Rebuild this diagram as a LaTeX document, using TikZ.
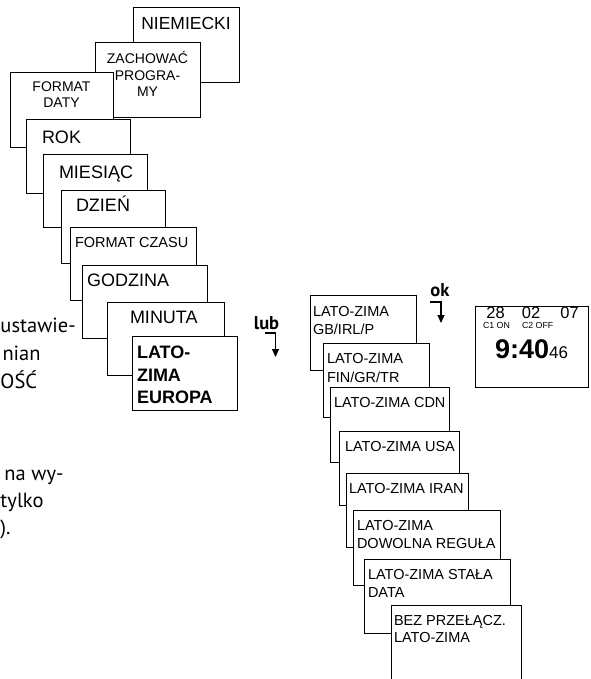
\documentclass[tikz,border=0pt]{standalone}
\usepackage{fontspec}
\setmainfont{Liberation Sans}
\newfontfamily\frut{PT Sans}
\usetikzlibrary{arrows.meta}
\newcommand\pbox[5]{\node[bx, minimum width={#4-#2}, minimum height={#5-#3}] (#1) at ({(#2+#4)/2},{(#3+#5)/2}) {};}
\begin{document}
\begin{tikzpicture}[x=1pt,y=-1pt,
  bx/.style={draw, line width=0.9pt, fill=white, inner sep=0pt, outer sep=0pt},
  tx/.style={inner sep=0pt, outer sep=0pt, anchor=base west},
  big/.style={tx, font=\fontsize{18}{20}\selectfont},
  bigb/.style={tx, font=\bfseries\fontsize{18}{20}\selectfont},
  sm/.style={tx, font=\fontsize{14}{16}\selectfont},
  rt/.style={tx, font=\fontsize{14.5}{17}\selectfont},
  frag/.style={inner sep=0pt, outer sep=0pt, anchor=base west, font=\frut\fontsize{20.5}{24}\selectfont},
  key/.style={inner sep=0pt, outer sep=0pt, anchor=base, font=\frut\bfseries\fontsize{18.5}{20}\selectfont},
  arr/.style={line width=1.1pt, -{Triangle[width=7pt,length=8pt]}},
]
\useasboundingbox (0,0) rectangle (590,679);
\clip (0,0) rectangle (590,679);

% left stack
\pbox{nie}{133}{7}{239}{82}
\node[big, font=\fontsize{17.5}{20}\selectfont, anchor=base] (nieT) at (186,30) {NIEMIECKI};
\pbox{zach}{95}{42}{200}{117}
\node[sm, anchor=base] (zachA) at (147.5,64) {ZACHOWAĆ};
\node[sm, anchor=base] (zachB) at (147.5,81) {PROGRA-};
\node[sm, anchor=base] (zachC) at (147.5,97) {MY};
\pbox{fdat}{10}{72}{113}{147}
\node[sm, anchor=base] (fdatA) at (61.5,92) {FORMAT};
\node[sm, anchor=base] (fdatB) at (61.5,108) {DATY};
\pbox{rok}{26}{119}{130}{193}
\node[big] (rokT) at (42,143.5) {ROK};
\pbox{mies}{43}{154}{147}{227}
\node[big] (miesT) at (59,178.5) {MIESIĄC};
\pbox{dzien}{61}{190}{165}{263}
\node[big] (dzienT) at (76,211.5) {DZIEŃ};
\pbox{fcz}{70}{227}{196}{300}
\node[rt] (fczT) at (75,247) {FORMAT CZASU};
\pbox{godz}{82}{265}{207}{338}
\node[big] (godzT) at (87,286.5) {GODZINA};
\pbox{minu}{107}{302}{224}{375}
\node[big] (minuT) at (130,323.5) {MINUTA};
\pbox{eur}{132}{336}{237}{410}
\node[bigb] (eurA) at (137,358.5) {LATO-};
\node[bigb] (eurB) at (137,381) {ZIMA};
\node[bigb] (eurC) at (137,403.5) {EUROPA};

% text fragments on the left
\node[frag] (f1) at (0.5,332) {ustawie-};
\node[frag] (f2) at (2.5,360) {nian};
\node[frag] (f3) at (0.5,388) {OŚĆ};
\node[frag] (f4) at (4.5,480) {na wy-};
\node[frag] (f5) at (0.5,507) {tylko};
\node[frag] (f6) at (0.5,534) {).};

% lub / ok arrows
\node[key] (lub) at (266.5,329) {lub};
\coordinate (lubA) at (265,333);
\coordinate (lubB) at (275.5,357);
\draw[arr] (lubA) -| (lubB);
\node[key] (ok) at (440,296) {ok};
\coordinate (okA) at (430,302);
\coordinate (okB) at (441,323);
\draw[arr] (okA) -| (okB);

% right stack
\pbox{r1}{310}{295}{416}{370}
\node[rt] (r1a) at (313,316.2) {LATO-ZIMA};
\node[rt] (r1b) at (313,334.2) {GB/IRL/P};
\pbox{r2}{323}{343}{429}{417}
\node[rt] (r2a) at (327,363.2) {LATO-ZIMA};
\node[rt] (r2b) at (327,382.2) {FIN/GR/TR};
\pbox{r3}{330}{387}{449}{462}
\node[rt] (r3a) at (334,407.2) {LATO-ZIMA CDN};
\pbox{r4}{339}{431}{459}{505}
\node[rt] (r4a) at (345,451.2) {LATO-ZIMA USA};
\pbox{r5}{346}{473}{468}{547}
\node[rt] (r5a) at (349,493.2) {LATO-ZIMA IRAN};
\pbox{r6}{353}{510}{500}{585}
\node[rt] (r6a) at (357,530.2) {LATO-ZIMA};
\node[rt] (r6b) at (357,548.2) {DOWOLNA REGUŁA};
\pbox{r7}{364}{559}{510}{633}
\node[rt] (r7a) at (368,579.2) {LATO-ZIMA STAŁA};
\node[rt] (r7b) at (368,597.2) {DATA};
\pbox{r8}{391}{605}{521}{700}
\node[rt] (r8a) at (394,625.2) {BEZ PRZEŁĄCZ.};
\node[rt] (r8b) at (394,642.2) {LATO-ZIMA};

% display
\pbox{disp}{475}{306}{588.5}{387}
\node[tx, anchor=base, font=\fontsize{16.5}{18}\selectfont] (d28) at (495.5,318.5) {28};
\node[tx, anchor=base, font=\fontsize{16.5}{18}\selectfont] (d02) at (531,318.5) {02};
\node[tx, anchor=base, font=\fontsize{16.5}{18}\selectfont] (d07) at (569.5,318.5) {07};
\node[tx, font=\fontsize{8.8}{10}\selectfont] (c1) at (483,328) {C1 ON};
\node[tx, font=\fontsize{8.8}{10}\selectfont] (c2) at (522,328) {C2 OFF};
\node[tx, font=\bfseries\fontsize{27}{30}\selectfont] (time) at (495,358.5) {9:40};
\node[tx, font=\fontsize{17}{19}\selectfont] (sec) at (time.base east) {46};
\end{tikzpicture}
\end{document}
